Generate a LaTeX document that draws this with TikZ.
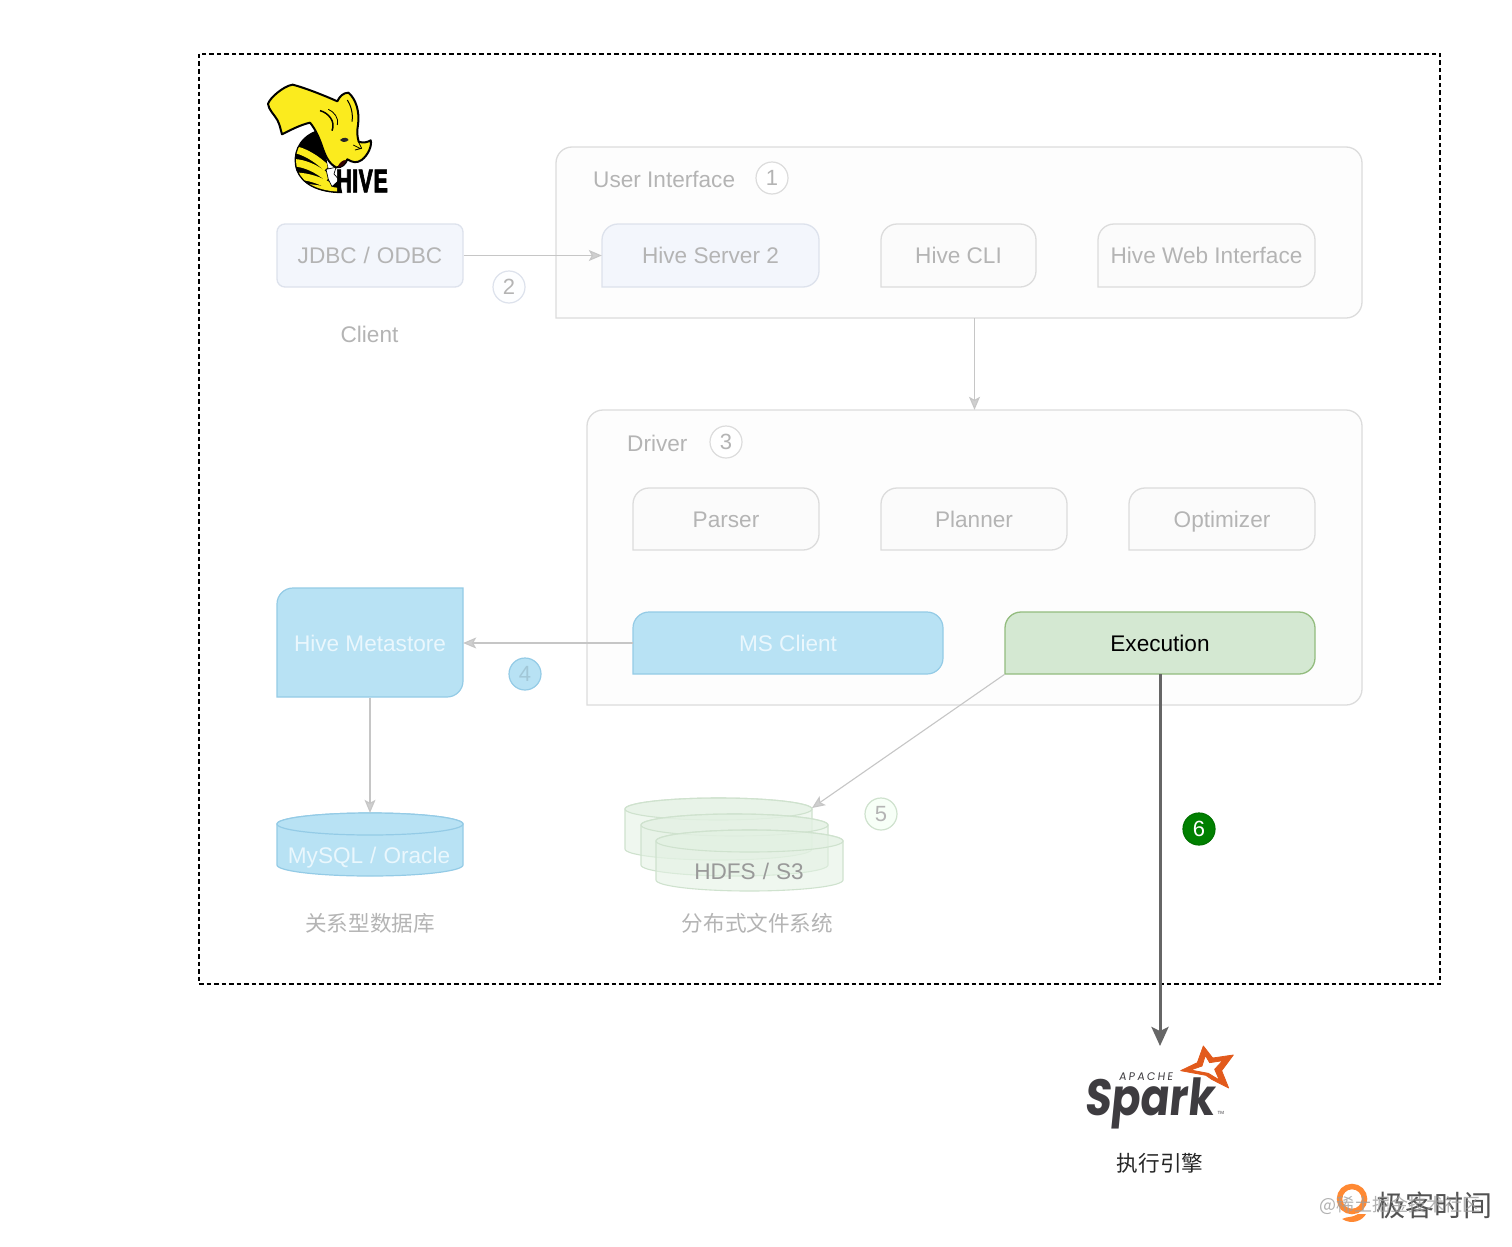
\documentclass[tikz,border=0pt]{standalone}
\usepackage{fontspec}
\setmainfont{Liberation Sans}
\newfontfamily\cjk{Noto Sans CJK SC}
\newfontfamily\sparkfont[FakeSlant=0.12]{Poppins}
\newfontfamily\hivefont[FakeBold=2.5]{TeX Gyre Heros}
\usetikzlibrary{arrows.meta,calc}
\definecolor{txt}{HTML}{B4B4B4}
\definecolor{edge}{HTML}{DCDCDC}
\definecolor{conn}{HTML}{C6C6C6}
\definecolor{blue}{HTML}{B8E2F4}
\definecolor{blueedge}{HTML}{94CBE6}
\definecolor{bluetxt}{HTML}{EAF7FD}
\definecolor{pale}{HTML}{F3F6FC}
\definecolor{paleedge}{HTML}{DDE2EC}
\definecolor{greenf}{HTML}{D4E8D2}
\definecolor{greene}{HTML}{93BC7E}
\definecolor{hdfsf}{HTML}{E3F1E3}
\definecolor{hdfse}{HTML}{CFE2CE}
\definecolor{sparkor}{HTML}{E25A1C}
\definecolor{sparkgr}{HTML}{3E3C40}
\definecolor{hivey}{HTML}{FBEB1E}
\definecolor{panelf}{HTML}{FDFDFD}
\definecolor{boxf}{HTML}{FBFBFB}
\tikzset{
  x=1pt,y=-1pt,
  lbl/.style={font=\fontsize{22.6}{26}\selectfont,text=txt,inner sep=0pt,text height=16pt,text depth=0pt},
  cjklbl/.style={font=\fontsize{21.6}{26}\selectfont\cjk,text=txt,inner sep=0pt},
  panel/.style={draw=edge,line width=1.3pt,fill=panelf},
  grayb/.style={draw=edge,line width=1.3pt,fill=boxf},
  paleb/.style={draw=paleedge,line width=1.3pt,fill=pale},
  blueb/.style={draw=blueedge,line width=1.2pt,fill=blue},
  greenb/.style={draw=greene,line width=1.3pt,fill=greenf},
  num/.style={circle,draw=edge,line width=1.2pt,minimum size=32pt,inner sep=0pt,font=\fontsize{22}{26}\selectfont,text=txt,fill=white},
  conn/.style={draw=conn,line width=1.1pt,-{Stealth[length=13pt,width=11pt,inset=3pt,fill=conn!85!white]}},
  cyl/.style={draw=blueedge,line width=1.2pt,fill=blue},
  hcyl/.style={draw=hdfse,line width=1.1pt,fill=hdfsf,fill opacity=.55},
  anchorbox/.style={inner sep=0pt,minimum width=0pt,minimum height=0pt}
}
% name, x0,y0,x1,y1, radius, style, text-style, text
\newcommand\mybox[9]{%
  \path[#7] (#2,#5) [rounded corners=#6pt] -- (#2,#3) -- (#4,#3) -- (#4,#5) [sharp corners] -- cycle;
  \node[#8,minimum width={#4pt-#2pt},minimum height={#5pt-#3pt},anchor=center] (#1) at ({(#2+#4)/2},{(#3+#5)/2}) {#9};}
\newcommand\mycyl[6]{% style, x0, x1, ytop-center, ybottom-center, ry
  \path[#1] (#2,#4) -- (#2,#5) arc[start angle=180,end angle=360,x radius={(#3-#2)/2},y radius=-#6] -- (#3,#4) arc[start angle=0,end angle=-180,x radius={(#3-#2)/2},y radius=#6] -- cycle;
  \path[#1] ({(#2+#3)/2},#4) ellipse [x radius={(#3-#2)/2},y radius=#6];}
\newcommand\slsh{\hspace{7pt}/\hspace{7pt}}
\begin{document}
\begin{tikzpicture}
\useasboundingbox (0,0) rectangle (1512,1247);
\fill[white] (0,0) rectangle (1512,1247);
% outer frame
\draw[black,line width=1.2pt,dash pattern=on 4.5pt off 3pt] (199,54) rectangle (1440,984);

% panels
\mybox{ui}{556}{147}{1362}{318}{16}{panel}{anchorbox}{}
\mybox{driver}{587}{410}{1362}{705}{16}{panel}{anchorbox}{}
\node[lbl,anchor=west] (uititle) at (593,179) {User Interface};
\node[num] (n1) at (772,178) {1};
\node[lbl,anchor=west] (drivertitle) at (627,443) {Driver};
\node[num] (n3) at (726,442) {3};

% boxes
\node[paleb,lbl,rounded corners=8pt,minimum width=186pt,minimum height=63pt] (jdbc) at (370,255.5) {JDBC\slsh ODBC};
\mybox{hs}{602}{224}{819}{287}{16}{paleb}{lbl}{Hive Server 2}
\mybox{cli}{881}{224}{1036}{287}{16}{grayb}{lbl}{Hive CLI}
\mybox{web}{1098}{224}{1315}{287}{16}{grayb}{lbl}{Hive Web Interface}
\mybox{parser}{633}{488}{819}{550}{16}{grayb}{lbl}{Parser}
\mybox{planner}{881}{488}{1067}{550}{16}{grayb}{lbl}{Planner}
\mybox{optimizer}{1129}{488}{1315}{550}{16}{grayb}{lbl}{Optimizer}
\mybox{ms}{633}{612}{943}{674}{16}{blueb}{lbl,text=bluetxt}{MS Client}
\mybox{exec}{1005}{612}{1315}{674}{16}{greenb}{lbl,text=black}{Execution}

% metastore
\path[blueb] (277,697) [rounded corners=16pt] -- (277,588) [sharp corners] -- (463,588) [rounded corners=16pt] -- (463,697) [sharp corners] -- cycle;
\node[lbl,text=bluetxt,minimum width=186pt,minimum height=109pt] (meta) at (370,643) {Hive Metastore};

% cylinders
\mycyl{cyl}{277}{463}{824}{865}{11}
\node[inner sep=0pt,minimum width=186pt,minimum height=63pt] (mysql) at (370,844.5) {};
\node[lbl,text=bluetxt] (mysqllabel) at (369,855) {MySQL\slsh Oracle};

\mycyl{hcyl}{625}{812}{809}{849}{11}
\mycyl{hcyl}{641}{828}{825}{865}{11}
\mycyl{hcyl}{656}{843}{841}{880}{11}
\coordinate (hdfsin) at (812,808);
\node[lbl,text=txt!85!black] (hdfs) at (749,871) {HDFS\slsh S3};

% labels
\node[lbl] (client) at (369.5,334) {Client};
\node[cjklbl] (rel) at (370,923) {关系型数据库};
\node[cjklbl] (dist) at (757.5,923) {分布式文件系统};
\node[cjklbl,text=black!85] (engine) at (1160,1163) {执行引擎};

% numbers
\node[num,draw=paleedge,fill=white!97!blue] (n2) at (509,287) {2};
\node[num,draw=blueedge,fill=blue,text=blue!88!black] (n4) at (525,674) {4};
\node[num,draw=hdfse,fill=white!97!green] (n5) at (881,814) {5};
\node[num,draw=green!45!black,fill=green!50!black,text=white] (n6) at (1199,829) {6};

% connectors
\draw[conn] (jdbc.east) -- (hs.west);
\draw[conn] (driver.north |- ui.south) -- (driver.north);
\draw[conn] (ms.west) -- (ms.west -| meta.east);
\draw[conn] (meta.south) -- (mysql.north);
\draw[conn] (exec.south west) -- (hdfsin);
\coordinate (sparkin) at (1160,1046);
\draw[draw=black!60,line width=3pt,-{Stealth[length=19pt,width=17pt,inset=4pt,fill=black!60]}] (exec.south) -- (sparkin);

% Hive logo
\begin{scope}[shift={(260,80)},x=0.3333pt,y=-0.3333pt]
  % bee body
  \path[fill=black,draw=black,line width=1pt] (165,155) .. controls (115,175) and (95,225) .. (110,270)
     .. controls (125,312) and (175,338) .. (245,338) -- (240,315) .. controls (205,290) and (190,250) .. (200,165) -- cycle;
  \begin{scope}
    \clip (165,158) .. controls (117,177) and (98,225) .. (113,270)
     .. controls (128,310) and (175,334) .. (243,335) -- (240,315) .. controls (205,290) and (190,250) .. (200,165) -- cycle;
    \draw[hivey,line width=7pt] (100,208) .. controls (130,212) and (170,235) .. (200,265);
    \draw[hivey,line width=7.5pt] (100,248) .. controls (135,250) and (170,265) .. (205,295);
    \draw[hivey,line width=7pt] (110,288) .. controls (145,290) and (180,300) .. (215,322);
    \draw[hivey,line width=4.5pt] (140,318) .. controls (170,322) and (205,327) .. (250,332);
  \end{scope}
  % hand / tusk
  \path[fill=white,draw=black,line width=0.7pt] (198,268) -- (228,262) -- (222,282) -- (238,300) -- (216,320) -- (205,298) -- cycle;
  % head and ear
  \path[fill=hivey,draw=black,line width=2pt,line join=round]
    (24,72) .. controls (28,55) and (70,18) .. (98,14)
    .. controls (130,22) and (190,45) .. (232,64)
    .. controls (238,50) and (250,38) .. (265,38)
    .. controls (287,55) and (300,95) .. (294,135)
    .. controls (290,155) and (292,170) .. (296,185)
    .. controls (310,190) and (322,187) .. (332,181)
    .. controls (337,195) and (325,225) .. (305,240)
    .. controls (290,250) and (278,248) .. (262,238)
    .. controls (258,250) and (245,265) .. (228,262)
    .. controls (205,250) and (195,225) .. (185,195)
    .. controls (178,175) and (165,145) .. (150,128)
    .. controls (120,135) and (92,150) .. (66,163)
    .. controls (62,150) and (60,135) .. (52,120)
    .. controls (44,105) and (26,90) .. (24,72) -- cycle;
  \draw[black,line width=1.5pt] (180,92) .. controls (205,98) and (228,125) .. (216,152);
  \draw[black,line width=0.8pt] (205,88) .. controls (222,95) and (238,115) .. (232,135);
  \draw[black,line width=1pt] (262,60) .. controls (272,75) and (280,100) .. (276,125);
  \fill[black!85] (240,180) .. controls (250,170) and (262,172) .. (266,180) .. controls (256,188) and (248,188) .. (240,180) -- cycle;
  \draw[black,line width=.8pt] (280,195) -- (300,205) (295,185) -- (305,205) (285,210) -- (305,205);
  \fill[black!80!red] (232,262) .. controls (238,248) and (248,240) .. (258,240) .. controls (256,252) and (245,262) .. (232,262) -- cycle;
  \node[inner sep=0pt,text=black,font=\fontsize{31}{31}\selectfont\hivefont\bfseries,xscale=.72] (hivew) at (306,303) {HIVE};
\end{scope}

% Spark logo
\begin{scope}[shift={(1080,1040)},x=0.3333pt,y=-0.3333pt]
  \path[fill=sparkor,even odd rule,draw=sparkor,line width=.8pt,line join=round]
    (370,18) -- (398,54) -- (460,45) -- (425,92) -- (446,144) -- (395,118) -- (378,106) -- (302,92) -- (352,68) -- cycle
    (376,46) -- (366,78) -- (332,90) -- (385,100) -- (418,120) -- (404,88) -- (428,62) -- (389,68) -- cycle;
  \node[anchor=base west,inner sep=0pt,text=sparkgr,xscale=.84,font=\fontsize{51}{51}\selectfont\sparkfont\bfseries] (sparkw) at (12,225) {Spark};
  \node[anchor=base west,inner sep=0pt,text=sparkgr,font=\fontsize{11}{12}\selectfont\sparkfont] (apache) at (116,122) {A\hspace{2.2pt}P\hspace{2.2pt}A\hspace{2.2pt}C\hspace{2.2pt}H\hspace{2.2pt}E};
  \node[anchor=base west,inner sep=0pt,text=sparkgr,font=\fontsize{4.5}{5}\selectfont] (tm) at (412,224) {TM};
\end{scope}

% watermark
\begin{scope}
  \path[draw=orange!85!red,line width=5.5pt,opacity=.8] (1352,1199) circle[radius=12.5];
  \fill[orange!85!red,opacity=.8] (1342,1219) .. controls (1352,1225) and (1362,1221) .. (1366,1214) -- (1358,1214) .. controls (1352,1218) and (1348,1216) .. (1342,1219) -- cycle;
  \node[inner sep=0pt,font=\fontsize{29}{30}\selectfont\cjk,text=black!68] (geek) at (1434,1205) {极客时间};
  \node[inner sep=0pt,font=\fontsize{18}{20}\selectfont\cjk,text=black!38,opacity=.8] (juejin) at (1400,1205) {@稀土掘金技术社区};
\end{scope}
\end{tikzpicture}
\end{document}
